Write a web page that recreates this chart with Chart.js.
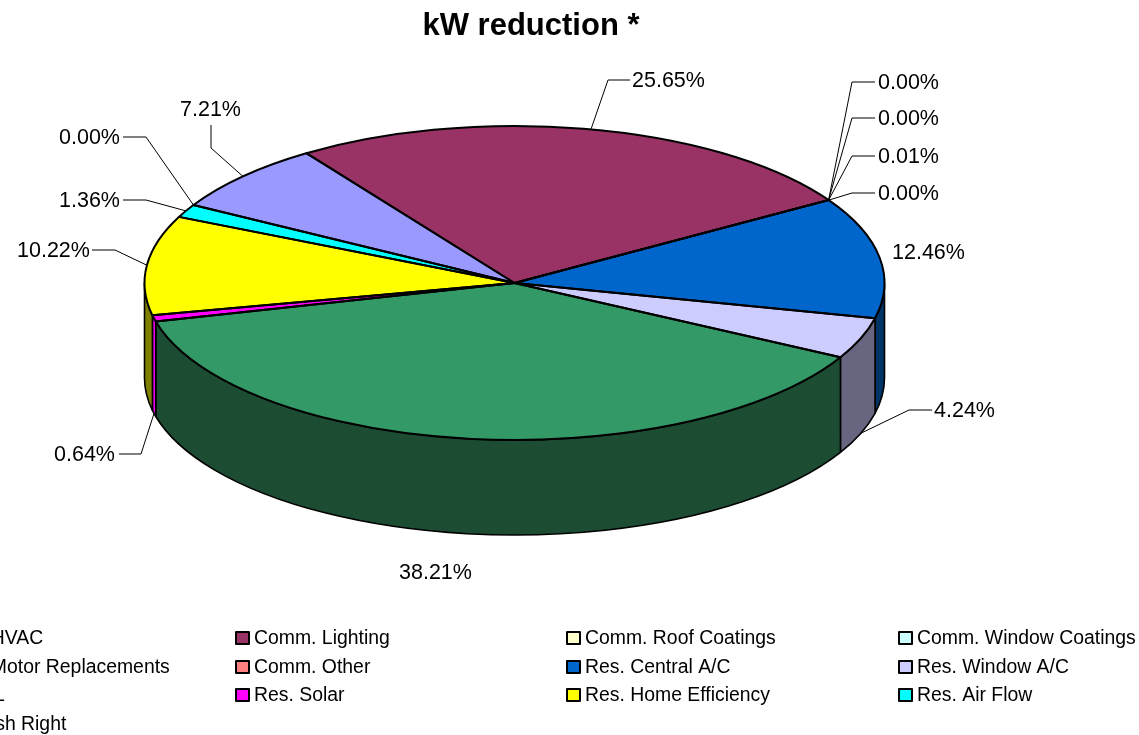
<!DOCTYPE html>
<html>
<head>
<meta charset="utf-8">
<title>kW reduction</title>
<script src="https://cdn.jsdelivr.net/npm/chart.js@4/dist/chart.umd.min.js"></script>
<style>
html, body { margin: 0; padding: 0; background: #fff; overflow: hidden; }
canvas { display: block; }
</style>
</head>
<body>
<canvas id="piechart" width="1139" height="735"></canvas>
<script>
const categories = [
    'Comm. HVAC', 'Comm. Lighting', 'Comm. Roof Coatings', 'Comm. Window Coatings',
    'Comm. Motor Replacements', 'Comm. Other', 'Res. Central A/C', 'Res. Window A/C',
    'Res. CFL', 'Res. Solar', 'Res. Home Efficiency', 'Res. Air Flow', 'Res. Flash Right'
];
const shares = [7.21, 25.65, 0.00, 0.00, 0.01, 0.00, 12.46, 4.24, 38.21, 0.64, 10.22, 1.36, 0.00];
const sliceColors = [
    '#9999FF', '#993366', '#FFFFCC', '#CCFFFF', '#660066', '#FF8080', '#0066CC',
    '#CCCCFF', '#339966', '#FF00FF', '#FFFF00', '#00FFFF', '#800080'
];
const wallColors = [
    '#4D4D80', '#4D1A33', '#808066', '#668080', '#330033', '#804040', '#003366',
    '#666680', '#1C4D33', '#F000F0', '#808000', '#008080', '#400040'
];

// pie look, ellipse squash and wall height
const SQUASH = 157 / 370;
const DEPTH = 95;
const FONT = 'Liberation Sans, Arial, sans-serif';

// where the percent labels sit: text x (left edge), y (middle), then the elbow of the leader
const labelSpots = [
    { x: 180, y: 109, elbow: [[211, 148], [211, 125]] },
    { x: 632, y: 80, elbow: [[608, 80], [630, 80]] },
    { x: 878, y: 82, elbow: [[852, 82], [875, 82]] },
    { x: 878, y: 118, elbow: [[852, 118], [875, 118]] },
    { x: 878, y: 156, elbow: [[852, 156], [875, 156]] },
    { x: 878, y: 193, elbow: [[852, 193], [875, 193]] },
    { x: 892, y: 252 },
    { x: 934, y: 410, elbow: [[909, 410], [932, 410]] },
    { x: 399, y: 572 },
    { x: 54, y: 454, elbow: [[141, 454], [119, 454]] },
    { x: 17, y: 250, elbow: [[115, 250], [92, 250]] },
    { x: 59, y: 200, elbow: [[146, 200], [123, 200]] },
    { x: 59, y: 137, elbow: [[146, 137], [123, 137]] }
];

const legendCols = [-77, 254, 585, 917];
const legendRows = [638, 667, 695, 724];

// part of an angle range that faces the viewer (sin > 0)
function frontPart(a0, a1) {
    for (const base of [-2 * Math.PI, 0, 2 * Math.PI]) {
        const from = Math.max(a0, base);
        const to = Math.min(a1, base + Math.PI);
        if (to > from) return [from, to];
    }
    return null;
}

const pie3d = {
    id: 'pie3d',
    beforeDatasetsDraw(chart) {
        const ctx = chart.ctx;
        const arcs = chart.getDatasetMeta(0).data;
        ctx.lineWidth = 1.6;
        ctx.strokeStyle = '#000';
        ctx.lineJoin = 'round';
        arcs.forEach((arc, i) => {
            if (!shares[i]) return;
            const part = frontPart(arc.startAngle, arc.endAngle);
            if (!part) return;
            const rx = arc.outerRadius;
            const ry = rx * SQUASH;
            ctx.beginPath();
            ctx.ellipse(arc.x, arc.y, rx, ry, 0, part[0], part[1]);
            ctx.ellipse(arc.x, arc.y + DEPTH, rx, ry, 0, part[1], part[0], true);
            ctx.closePath();
            ctx.fillStyle = wallColors[i];
            ctx.fill();
            ctx.stroke();
        });
        // squash the flat pie the library draws
        const first = arcs[0];
        ctx.save();
        ctx.translate(first.x, first.y);
        ctx.scale(1, SQUASH);
        ctx.translate(-first.x, -first.y);
    },
    afterDatasetsDraw(chart) {
        const ctx = chart.ctx;
        ctx.restore();
        const arcs = chart.getDatasetMeta(0).data;

        // slice outlines, after the restore so the pen stays round
        ctx.lineWidth = 2;
        ctx.strokeStyle = '#000';
        ctx.lineJoin = 'round';
        arcs.forEach((arc, i) => {
            if (!shares[i]) return;
            const rx = arc.outerRadius;
            ctx.beginPath();
            ctx.moveTo(arc.x, arc.y);
            ctx.ellipse(arc.x, arc.y, rx, rx * SQUASH, 0, arc.startAngle, arc.endAngle);
            ctx.closePath();
            ctx.stroke();
        });

        // percent labels
        ctx.fillStyle = '#000';
        ctx.textBaseline = 'middle';
        ctx.textAlign = 'left';
        ctx.font = '21.5px ' + FONT;
        ctx.lineWidth = 1;
        arcs.forEach((arc, i) => {
            const spot = labelSpots[i];
            ctx.fillText(shares[i].toFixed(2) + '%', spot.x, spot.y + 1);
            if (!spot.elbow) return;
            const mid = (arc.startAngle + arc.endAngle) / 2;
            const rx = arc.outerRadius;
            const front = Math.sin(mid) > 0;
            ctx.beginPath();
            ctx.moveTo(arc.x + rx * Math.cos(mid), arc.y + rx * SQUASH * Math.sin(mid) + (front ? DEPTH : 0));
            spot.elbow.forEach((p) => ctx.lineTo(p[0], p[1]));
            ctx.strokeStyle = '#000';
            ctx.stroke();
        });

        // title
        ctx.textAlign = 'center';
        ctx.font = 'bold 31px ' + FONT;
        ctx.fillText('kW reduction *', 531, 26);

        // legend, four columns, first column runs off the left edge like the original
        ctx.textAlign = 'left';
        ctx.font = '19.4px ' + FONT;
        categories.forEach((name, i) => {
            const col = legendCols[i % 4];
            const row = legendRows[Math.floor(i / 4)];
            ctx.fillStyle = sliceColors[i];
            ctx.fillRect(col - 18, row - 6, 13, 12);
            ctx.lineWidth = 2;
            ctx.strokeStyle = '#000';
            ctx.strokeRect(col - 18, row - 6, 13, 12);
            ctx.fillStyle = '#000';
            ctx.fillText(name, col, row + 1);
        });
    }
};

new Chart(document.getElementById('piechart').getContext('2d'), {
    type: 'pie',
    data: {
        labels: categories,
        datasets: [{
            data: shares,
            backgroundColor: sliceColors,
            borderWidth: 0,
            clip: false
        }]
    },
    options: {
        responsive: false,
        animation: false,
        events: [],
        rotation: -60.2,
        radius: 370,
        layout: { padding: { right: 110, bottom: 169 } },
        plugins: {
            legend: { display: false },
            title: { display: false },
            tooltip: { enabled: false }
        }
    },
    plugins: [pie3d]
});
</script>
</body>
</html>
